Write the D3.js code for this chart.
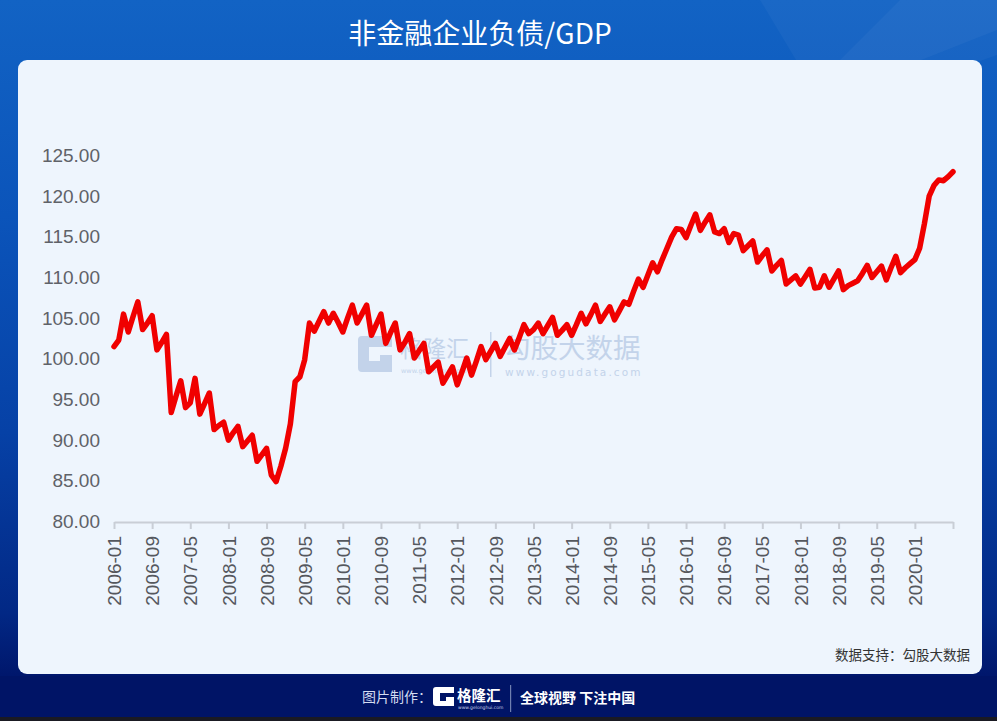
<!DOCTYPE html>
<html>
<head>
<meta charset="utf-8">
<script src="https://cdn.jsdelivr.net/npm/d3@7"></script>
<style>
html,body{margin:0;padding:0;background:#001466;}
svg{display:block;}
</style>
</head>
<body>
<svg id="chart" width="997" height="721"></svg>
<script>
// ---------------- data ----------------
const title = "非金融企业负债/GDP";
const startMonth = "2006-01";
const monthCount = 177; // 2006-01 .. 2020-09
const values = [
  101.5,102.3,105.5,103.3,105.2,107.0,103.6,104.4,105.3,101.1,102.0,103.0,
  93.4,95.4,97.3,94.0,94.6,97.6,93.2,94.5,95.8,91.3,91.8,92.2,
  90.0,90.9,91.7,89.2,89.9,90.6,87.4,88.2,89.0,85.7,84.9,86.8,
  89.0,92.0,97.2,97.8,99.9,104.4,103.4,104.6,105.8,104.4,105.6,104.5,
  103.3,105.0,106.6,104.4,105.5,106.6,102.9,104.2,105.5,101.9,103.2,104.4,
  101.1,102.0,103.1,100.1,101.0,101.9,98.4,99.0,99.6,97.0,98.0,99.0,
  96.8,98.4,100.1,98.0,99.7,101.5,99.9,100.9,101.9,100.3,101.4,102.5,
  101.1,102.6,104.2,103.1,103.6,104.4,103.1,104.1,105.1,102.9,103.5,104.2,
  102.9,104.2,105.6,104.3,105.4,106.6,104.6,105.5,106.4,104.8,105.9,107.0,
  106.7,108.3,109.8,108.8,110.3,111.8,110.7,112.2,113.6,115.0,116.0,115.9,
  114.9,116.4,117.8,115.8,116.8,117.7,115.6,115.4,116.0,114.3,115.4,115.2,
  113.3,113.9,114.5,111.9,112.7,113.4,110.8,111.5,112.1,109.2,109.7,110.2,
  109.2,110.1,111.0,108.7,108.8,110.2,108.8,109.8,110.8,108.5,109.0,109.3,
  109.6,110.5,111.5,110.0,110.7,111.4,109.7,111.2,112.6,110.6,111.2,111.7,
  112.2,113.6,116.6,120.0,121.3,122.0,121.9,122.4,123.0
];
const tickLabels = ["2006-01","2006-09","2007-05","2008-01","2008-09","2009-05","2010-01",
  "2010-09","2011-05","2012-01","2012-09","2013-05","2014-01","2014-09","2015-05",
  "2016-01","2016-09","2017-05","2018-01","2018-09","2019-05","2020-01"];
const yTicks = [80,85,90,95,100,105,110,115,120,125];
const sourceText = "数据支持：勾股大数据";

// categories (month labels)
const parse = d3.timeParse("%Y-%m"), fmt = d3.timeFormat("%Y-%m");
const categories = d3.range(monthCount).map(i => fmt(d3.timeMonth.offset(parse(startMonth), i)));
const data = categories.map((c, i) => ({c, v: values[i]}));

// ---------------- drawing ----------------
const svg = d3.select("#chart");
const defs = svg.append("defs");
const bg = defs.append("linearGradient").attr("id","bg").attr("x1",0).attr("y1",0).attr("x2",0).attr("y2",1);
[[0,"#1263c4"],[0.3,"#0b54ba"],[0.6,"#0641a6"],[0.85,"#022885"],[0.94,"#00166b"],[1,"#001466"]]
  .forEach(([o,c]) => bg.append("stop").attr("offset",o).attr("stop-color",c));
svg.append("rect").attr("width",997).attr("height",721).attr("fill","url(#bg)");
// light streaks top-right
svg.append("path").attr("d","M760,0 L997,0 L997,30 L820,100 Z").attr("fill","#ffffff").attr("opacity",0.035);
svg.append("path").attr("d","M900,0 L997,0 L997,55 L760,140 Z").attr("fill","#ffffff").attr("opacity",0.035);
// footer band
svg.append("rect").attr("x",0).attr("y",676).attr("width",997).attr("height",45).attr("fill","#001466");
svg.append("rect").attr("x",0).attr("y",717).attr("width",997).attr("height",4).attr("fill","#1a1a22");

// title
svg.append("text").attr("x",480).attr("y",44).attr("text-anchor","middle")
  .attr("fill","#ffffff").style("font-family","'Noto Sans CJK SC'").style("font-size","28px")
  .text(title);

// card
svg.append("rect").attr("x",18).attr("y",60).attr("width",964).attr("height",614).attr("rx",9)
  .attr("fill","#eef5fd");

// watermark
const wm = svg.append("g").attr("fill","#c3d3ea");
wm.append("path").attr("transform","translate(358,336)")
  .attr("d","M4,0 H34 V11 H11 V25 H22 V19 H34 V36 H4 Q0,36 0,32 V4 Q0,0 4,0 Z");
wm.append("text").attr("x",400).attr("y",357).style("font-family","'Noto Sans CJK SC'")
  .style("font-size","23px").text("格隆汇");
wm.append("text").attr("x",401).attr("y",373).style("font-family","'DejaVu Sans'")
  .style("font-size","6.5px").text("www.gelonghui.com");
wm.append("rect").attr("x",490).attr("y",332).attr("width",1.5).attr("height",45);
wm.append("text").attr("x",503).attr("y",358).style("font-family","'Noto Sans CJK SC'")
  .style("font-size","27.5px").text("勾股大数据");
wm.append("text").attr("x",505).attr("y",376).style("font-family","'DejaVu Sans'")
  .style("font-size","10.5px").style("letter-spacing","2.1px").text("www.gogudata.com");

// scales
const x = d3.scalePoint().domain(categories).range([114, 953]);
const y = d3.scaleLinear().domain([80,125]).range([521.5,155.5]);

// y axis
const yAxis = svg.append("g").attr("transform","translate(100,0)")
  .call(d3.axisLeft(y).tickValues(yTicks).tickFormat(d3.format(".2f")).tickSize(0).tickPadding(0));
yAxis.select(".domain").remove();
yAxis.selectAll("text").attr("fill","#5f6268")
  .style("font-family","'Liberation Sans', Arial").style("font-size","19px");

// x axis
const lastCat = categories[categories.length-1];
const xAxis = svg.append("g").attr("transform","translate(0,522)")
  .call(d3.axisBottom(x).tickValues(tickLabels.concat([lastCat]))
    .tickFormat(d => tickLabels.includes(d) ? d : "").tickSize(7).tickSizeOuter(0));
xAxis.select(".domain").attr("stroke","#c9ced6").attr("stroke-width",2);
xAxis.selectAll(".tick line").attr("stroke","#c9ced6").attr("stroke-width",2);
xAxis.selectAll("text").attr("fill","#55585e")
  .style("font-family","'Liberation Sans', Arial").style("font-size","19px")
  .attr("transform","rotate(-90)").attr("x",-14).attr("y",0).attr("dy","0.35em")
  .style("text-anchor","end");

// line
const line = d3.line().x(d => x(d.c)).y(d => y(d.v));
svg.append("path").datum(data).attr("d",line).attr("fill","none")
  .attr("stroke","#f00000").attr("stroke-width",5.5).attr("stroke-linejoin","round").attr("stroke-linecap","round");

// source
svg.append("text").attr("x",970).attr("y",660).attr("text-anchor","end").attr("fill","#333")
  .style("font-family","'Noto Sans CJK SC'").style("font-size","13.5px").text(sourceText);

// footer
const ft = svg.append("g");
ft.append("text").attr("x",362).attr("y",702).attr("fill","#d4dcf0")
  .style("font-family","'Noto Sans CJK SC'").style("font-size","14px").text("图片制作：");
ft.append("path").attr("transform","translate(433,687)").attr("fill","#ffffff")
  .attr("d","M3,0 H21 V6 H7 V14 H13 V10 H21 V19 H3 Q0,19 0,16 V3 Q0,0 3,0 Z");
ft.append("text").attr("x",457).attr("y",701).attr("fill","#ffffff")
  .style("font-family","'Noto Sans CJK SC'").style("font-weight","bold").style("font-size","14.5px").text("格隆汇");
ft.append("text").attr("x",458).attr("y",709).attr("fill","#c8d0e8")
  .style("font-family","'DejaVu Sans'").style("font-size","4.5px").text("www.gelonghui.com");
ft.append("rect").attr("x",510).attr("y",685).attr("width",1.2).attr("height",27).attr("fill","#6f7fb0");
ft.append("text").attr("x",520).attr("y",703).attr("fill","#ffffff")
  .style("font-family","'Noto Sans CJK SC'").style("font-weight","bold").style("font-size","14px").text("全球视野 下注中国");
</script>
</body>
</html>
